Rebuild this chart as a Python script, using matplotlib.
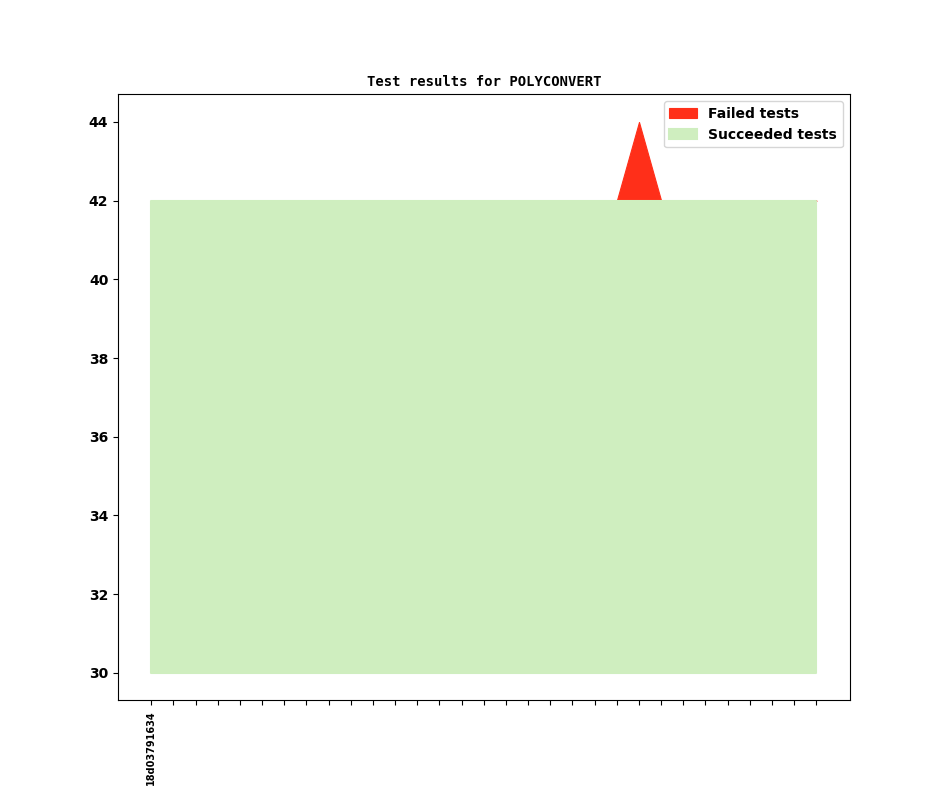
import matplotlib
matplotlib.use("Agg")
import matplotlib.pyplot as plt
import numpy as np

commits = ["18d03791634"] + [""] * 30
succeeded = [42] * 31
failed = [0] * 31
failed[22] = 2
base = 30

x = np.arange(len(commits))
succ = np.array(succeeded)
fail = np.array(failed)

fig, ax = plt.subplots(figsize=(9.44, 7.87), dpi=100)
ax.fill_between(x, succ, succ + fail, facecolor="#ff2f19", edgecolor="#ff2f19",
                linewidth=0.8, label="Failed tests")
ax.fill_between(x, base, succ, facecolor="#cfeebf", edgecolor="#cfeebf",
                linewidth=1.5, joinstyle="round", label="Succeeded tests")
ax.set_xticks(x)
ax.set_xticklabels(commits, rotation=90, fontsize=7, fontweight="bold")
for lbl in ax.get_yticklabels():
    lbl.set_fontweight("bold")
ax.tick_params(axis="y", labelsize=10)
ax.set_title("Test results for POLYCONVERT", family="DejaVu Sans Mono", fontweight="bold", fontsize=10)
leg = ax.legend(loc="upper right", prop={"weight": "bold", "size": 10})
fig.savefig("out.png", dpi=100)
